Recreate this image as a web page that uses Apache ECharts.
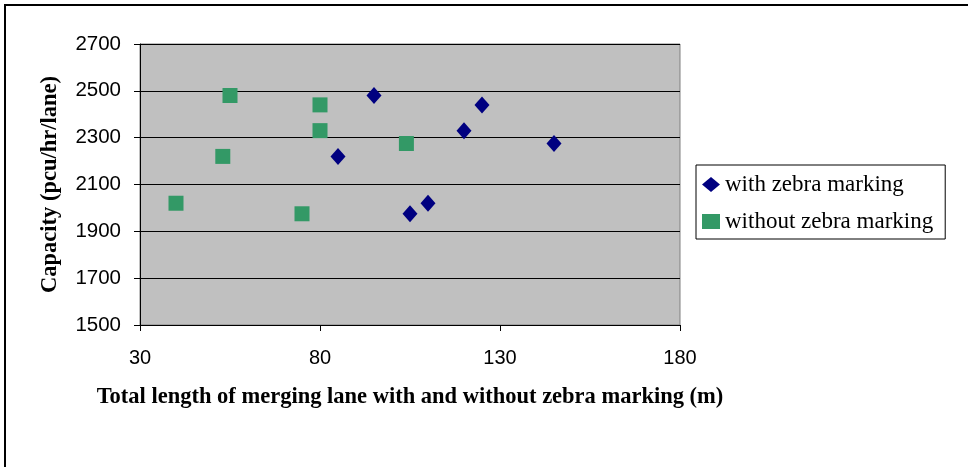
<!DOCTYPE html>
<html><head><meta charset="utf-8">
<script src="https://cdn.jsdelivr.net/npm/echarts@6/dist/echarts.min.js"></script>
<style>html,body{margin:0;padding:0;background:#fff}#c{width:968px;height:467px}</style>
</head><body><div id="c"></div>
<script>
var withZebraX = [95, 125, 120, 145, 85, 110, 105];
var withZebraY = [2480, 2440, 2330, 2275, 2220, 2020, 1975];
var withoutZebraX = [55, 80, 80, 104, 53, 40, 75];
var withoutZebraY = [2480, 2440, 2330, 2275, 2220, 2020, 1975];
var seriesNames = ['with zebra marking', 'without zebra marking'];
var xTitle = 'Total length of merging lane with and without zebra marking (m)';
var yTitle = 'Capacity (pcu/hr/lane)';

function pairs(xs, ys){ return xs.map(function(x,i){ return [x, ys[i]]; }); }

var chart = echarts.init(document.getElementById('c'));
chart.setOption({
  animation: false,
  backgroundColor: '#fff',
  graphic: [{
    type: 'rect', shape: {x: 5, y: 5, width: 990, height: 490},
    style: {fill: 'none', stroke: '#000', lineWidth: 2}, z: 100
  }],
  grid: {left: 140, top: 44, width: 540, height: 281, show: true,
         backgroundColor: '#C0C0C0', borderColor: '#808080', borderWidth: 1},
  legend: {
    orient: 'vertical', left: 696, top: 165,
    data: seriesNames,
    borderColor: '#000', borderWidth: 1,
    padding: [8, 12, 6, 6], itemGap: 14,
    itemWidth: 18, itemHeight: 15, symbolKeepAspect: true, itemStyle: {borderWidth: 0},
    textStyle: {fontFamily: 'Liberation Serif', fontSize: 23, color: '#000'}
  },
  xAxis: {
    type: 'value', min: 30, max: 180, interval: 50,
    axisLine: {show: true, onZero: false, lineStyle: {color: '#000', width: 1}},
    axisTick: {show: true, inside: false, length: 6, lineStyle: {color: '#000'}},
    axisLabel: {fontFamily: 'Liberation Sans', fontSize: 20, color: '#000', margin: 23},
    splitLine: {show: false},
    name: xTitle, nameLocation: 'middle', nameGap: 61,
    nameTextStyle: {fontFamily: 'Liberation Serif', fontSize: 22.5, fontWeight: 'bold', color: '#000'}
  },
  yAxis: {
    type: 'value', min: 1500, max: 2700, interval: 200,
    axisLine: {show: true, onZero: false, lineStyle: {color: '#000', width: 1}},
    axisTick: {show: true, inside: false, length: 6, lineStyle: {color: '#000'}},
    axisLabel: {fontFamily: 'Liberation Sans', fontSize: 20.5, color: '#000', margin: 19,
                formatter: function(v){ return String(v); }},
    splitLine: {show: true, lineStyle: {color: '#000', width: 1}},
    name: yTitle, nameLocation: 'middle', nameGap: 78, nameRotate: 90,
    nameTextStyle: {fontFamily: 'Liberation Serif', fontSize: 22.5, fontWeight: 'bold', color: '#000'}
  },
  series: [{
    name: seriesNames[0], type: 'scatter', symbol: 'diamond', symbolSize: [15, 17],
    itemStyle: {color: '#000080', opacity: 1},
    data: pairs(withZebraX, withZebraY)
  }, {
    name: seriesNames[1], type: 'scatter', symbol: 'rect', symbolSize: 15,
    itemStyle: {color: '#339966', opacity: 1},
    data: pairs(withoutZebraX, withoutZebraY)
  }]
});
</script></body></html>
